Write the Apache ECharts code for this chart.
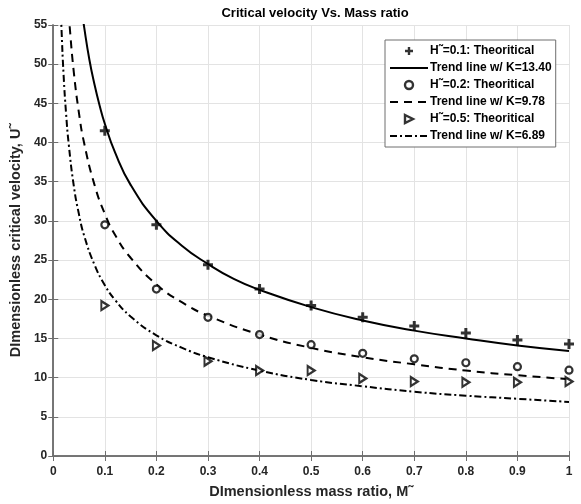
<!DOCTYPE html>
<html>
<head>
<meta charset="utf-8">
<script src="https://cdn.jsdelivr.net/npm/echarts@6/dist/echarts.min.js"></script>
<style>
  html, body { margin: 0; padding: 0; background: #fff; }
  #chart { width: 581px; height: 504px; }
</style>
</head>
<body>
<div id="chart"></div>
<script>
// 质量比 M~
const massRatio = [0.1, 0.2, 0.3, 0.4, 0.5, 0.6, 0.7, 0.8, 0.9, 1.0]

// 理论值
const theoH01 = [41.5, 29.5, 24.4, 21.3, 19.2, 17.7, 16.6, 15.7, 14.8, 14.3]
const theoH02 = [29.5, 21.3, 17.7, 15.5, 14.2, 13.1, 12.4, 11.9, 11.4, 10.95]
const theoH05 = [19.2, 14.1, 12.1, 10.9, 10.9, 9.9, 9.5, 9.4, 9.4, 9.5]

// 趋势线 sample points
const trendX1 = [0.055, 0.06, 0.07, 0.08, 0.09, 0.1, 0.12, 0.15, 0.2, 0.25, 0.3, 0.35, 0.4, 0.5, 0.6, 0.7, 0.8, 0.9, 1.0]
const trendY1 = [57.1, 54.7, 50.6, 47.4, 44.7, 42.4, 38.7, 34.6, 30.0, 26.8, 24.5, 22.6, 21.2, 19.0, 17.3, 16.0, 15.0, 14.1, 13.4]

const trendX2 = [0.028, 0.032, 0.04, 0.05, 0.06, 0.08, 0.1, 0.12, 0.15, 0.2, 0.25, 0.3, 0.4, 0.5, 0.6, 0.7, 0.8, 0.9, 1.0]
const trendY2 = [58.4, 54.7, 48.9, 43.7, 39.9, 34.6, 30.9, 28.2, 25.3, 21.9, 19.6, 17.9, 15.5, 13.8, 12.6, 11.7, 10.9, 10.3, 9.8]

const trendX3 = [0.014, 0.016, 0.02, 0.025, 0.03, 0.04, 0.05, 0.06, 0.08, 0.1, 0.12, 0.15, 0.2, 0.25, 0.3, 0.4, 0.5, 0.6, 0.7, 0.8, 0.9, 1.0]
const trendY3 = [58.2, 54.5, 48.7, 43.6, 39.8, 34.4, 30.8, 28.1, 24.4, 21.8, 19.9, 17.8, 15.4, 13.8, 12.6, 10.9, 9.7, 8.9, 8.2, 7.7, 7.3, 6.9]

const pair = (xs, ys) => xs.map((x, i) => [x, ys[i]])

const FONT = 'Liberation Sans'
const AXIS_GRAY = '#6e6e6e'
const plusPath = 'path://M3.5,0H6.5V3.5H10V6.5H6.5V10H3.5V6.5H0V3.5H3.5Z'
const triPath = 'path://M0,0L10,5L0,10Z'

const axisCommon = {
  type: 'value',
  axisLine: { show: true, lineStyle: { color: AXIS_GRAY, width: 1.5 } },
  axisTick: { show: true, inside: true, length: 5, lineStyle: { color: AXIS_GRAY } },
  splitLine: { show: true, lineStyle: { color: '#e3e3e3', width: 1 } },
  axisLabel: { color: '#262626', fontFamily: FONT, fontWeight: 'bold', fontSize: 12 },
}

const nameStyle = { fontFamily: FONT, fontWeight: 'bold', fontSize: 14.5, color: '#262626' }
const hideSym = { opacity: 0 }
const legendMark = { color: '#fff', borderColor: '#000', borderWidth: 2.4 }

const option = {
  animation: false,
  backgroundColor: '#fff',
  title: {
    text: 'Critical velocity Vs. Mass ratio',
    left: 310,
    textAlign: 'center',
    top: 2,
    textStyle: { fontFamily: FONT, fontWeight: 'bold', fontSize: 13, color: '#000' },
  },
  grid: { left: 52, right: 12, top: 25, bottom: 47 },
  legend: {
    orient: 'vertical',
    left: 385,
    top: 40,
    itemWidth: 38,
    itemHeight: 8,
    itemGap: 5,
    padding: [5, 4, 5, 4],
    backgroundColor: '#fff',
    borderColor: AXIS_GRAY,
    borderWidth: 1,
    borderRadius: 0,
    textStyle: { fontFamily: FONT, fontWeight: 'bold', fontSize: 12, color: '#000', padding: [0, 0, 0, -3] },
    data: [
      { name: 'H˜=0.1: Theoritical', itemStyle: { color: '#000' } },
      { name: 'Trend line w/ K=13.40', itemStyle: hideSym },
      { name: 'H˜=0.2: Theoritical', itemStyle: legendMark },
      { name: 'Trend line w/ K=9.78', itemStyle: hideSym },
      { name: 'H˜=0.5: Theoritical', itemStyle: legendMark },
      { name: 'Trend line w/ K=6.89', itemStyle: hideSym },
    ],
  },
  xAxis: [
    Object.assign({}, axisCommon, {
      min: 0, max: 1, interval: 0.1,
      name: 'DImensionless mass ratio, M˜',
      nameLocation: 'middle',
      nameGap: 28,
      nameTextStyle: nameStyle,
      axisLabel: Object.assign({}, axisCommon.axisLabel, { margin: 10 }),
    }),
    Object.assign({}, axisCommon, {
      position: 'top', min: 0, max: 1, interval: 0.1,
      axisLabel: { show: false }, splitLine: { show: false },
    }),
  ],
  yAxis: [
    Object.assign({}, axisCommon, {
      min: 0, max: 55, interval: 5,
      name: 'DImensionless critical velocity, U˜',
      nameLocation: 'middle',
      nameGap: 24,
      nameTextStyle: nameStyle,
      axisLabel: Object.assign({}, axisCommon.axisLabel, { margin: 6 }),
    }),
    Object.assign({}, axisCommon, {
      position: 'right', min: 0, max: 55, interval: 5,
      axisLabel: { show: false }, splitLine: { show: false },
    }),
  ],
  series: [
    {
      name: 'H˜=0.1: Theoritical', type: 'scatter',
      symbol: plusPath, symbolSize: 10,
      itemStyle: { color: '#000' },
      data: pair(massRatio, theoH01), z: 5,
    },
    {
      name: 'Trend line w/ K=13.40', type: 'line', smooth: true, showSymbol: false,
      lineStyle: { color: '#000', width: 2, type: 'solid' },
      itemStyle: { color: '#000' },
      data: pair(trendX1, trendY1), clip: true,
    },
    {
      name: 'H˜=0.2: Theoritical', type: 'scatter',
      symbol: 'circle', symbolSize: 7,
      itemStyle: { color: '#fff', borderColor: '#000', borderWidth: 2.2 },
      data: pair(massRatio, theoH02), z: 5,
    },
    {
      name: 'Trend line w/ K=9.78', type: 'line', smooth: true, showSymbol: false,
      lineStyle: { color: '#000', width: 2, type: [8, 6] },
      itemStyle: { color: '#000' },
      data: pair(trendX2, trendY2), clip: true,
    },
    {
      name: 'H˜=0.5: Theoritical', type: 'scatter',
      symbol: triPath, symbolSize: [7, 9],
      itemStyle: { color: '#fff', borderColor: '#000', borderWidth: 2.2 },
      data: pair(massRatio, theoH05), z: 5,
    },
    {
      name: 'Trend line w/ K=6.89', type: 'line', smooth: true, showSymbol: false,
      lineStyle: { color: '#000', width: 2, type: [7, 3, 2, 3] },
      itemStyle: { color: '#000' },
      data: pair(trendX3, trendY3), clip: true,
    },
  ],
}

const chart = echarts.init(document.getElementById('chart'), null, { renderer: 'canvas' })
chart.setOption(option)
</script>
</body>
</html>
